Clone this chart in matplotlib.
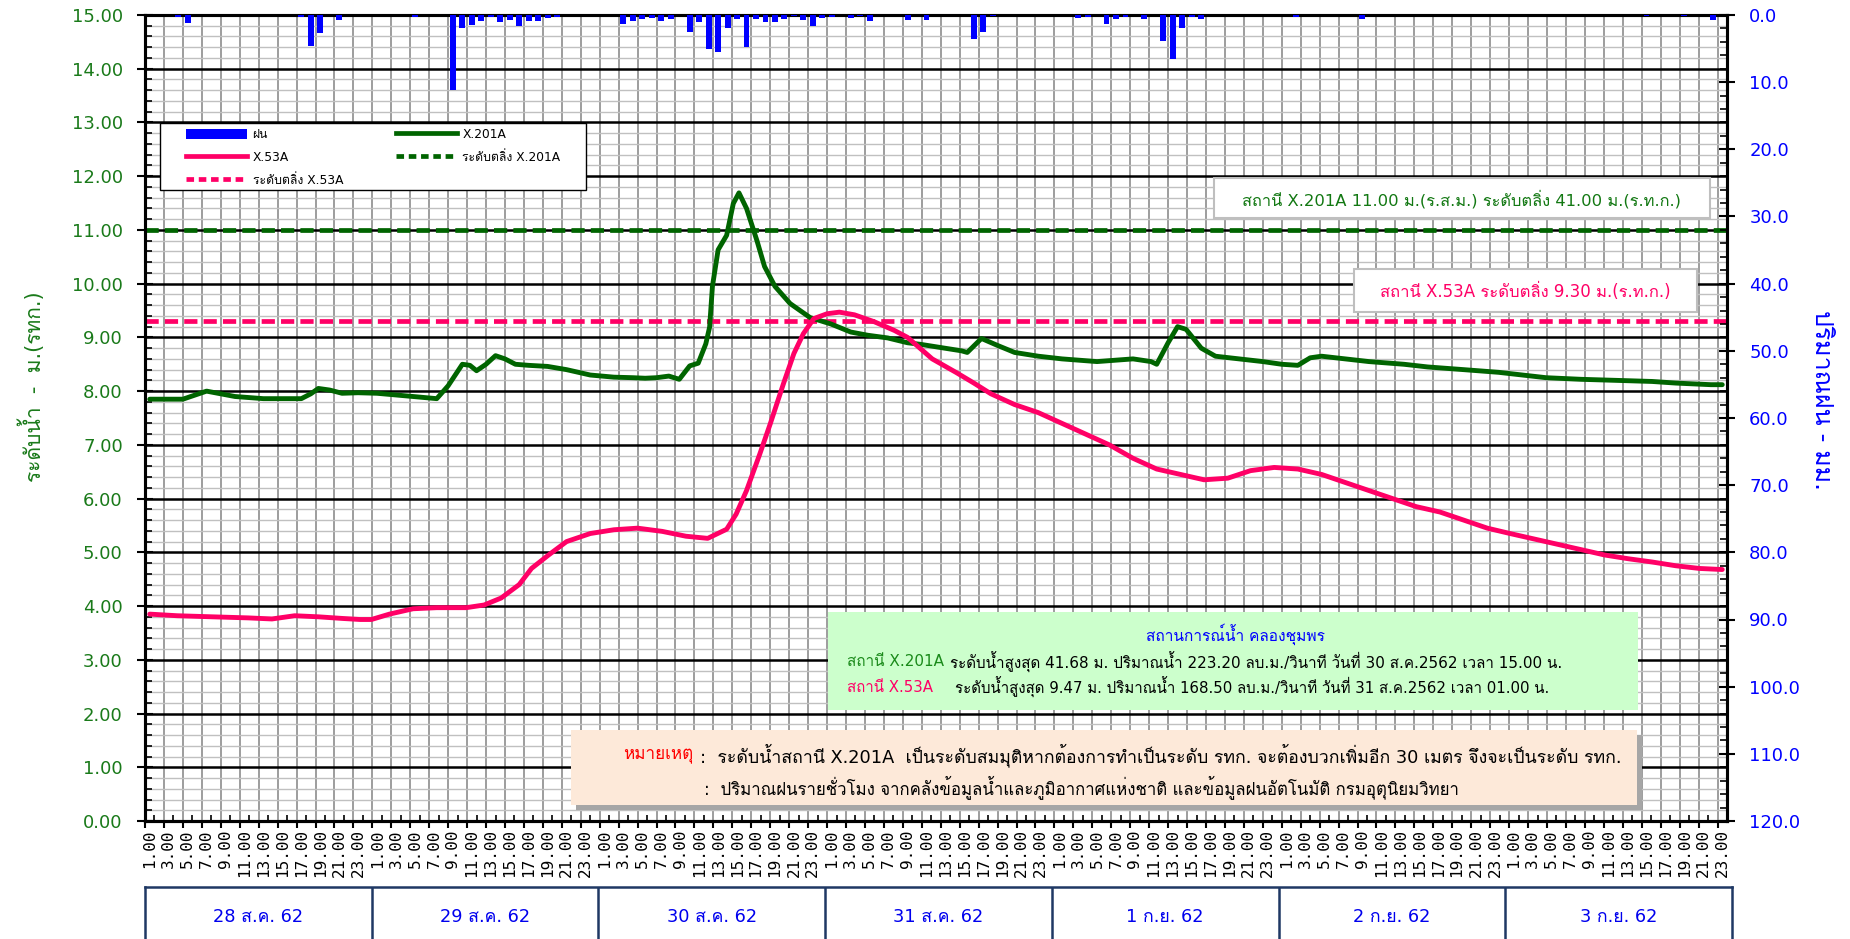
import matplotlib
matplotlib.use('Agg')
import matplotlib.pyplot as plt
import matplotlib.font_manager as font_manager
from matplotlib.ft2font import FT2Font
from matplotlib.patches import Patch, Rectangle
from matplotlib.lines import Line2D
from matplotlib.ticker import MultipleLocator
import numpy as np

W, H = 1850, 939

# ---- data ----
day_labels = ['28 ส.ค. 62', '29 ส.ค. 62', '30 ส.ค. 62', '31 ส.ค. 62',
              '1 ก.ย. 62', '2 ก.ย. 62', '3 ก.ย. 62']
hour_labels = ['1.00', '3.00', '5.00', '7.00', '9.00', '11.00',
               '13.00', '15.00', '17.00', '19.00', '21.00', '23.00']
n_hours = 167   # 28 Aug 1.00 .. 3 Sep 23.00

# hourly rain (hour index, mm)
rain_hour = [3, 4, 16, 17, 18, 20, 28, 32, 33, 34, 35, 36, 37, 38, 39, 40, 41, 42, 43,
             50, 51, 52, 53, 54, 55, 57, 58, 59, 60, 61, 62, 63, 64, 65, 66, 67, 68,
             69, 70, 71, 72, 74, 75, 76, 80, 82, 87, 88, 89, 98, 99, 101, 102, 103,
             105, 107, 108, 109, 110, 111, 121, 128, 158, 162, 165]
rain_mm = [0.3, 1.2, 0.3, 4.6, 2.7, 0.7, 0.3, 11.2, 2.0, 1.5, 0.85, 0.25, 1.0, 0.75, 1.6,
           0.9, 0.9, 0.4, 0.25, 1.4, 0.95, 0.6, 0.5, 0.9, 0.6, 2.6, 1.0, 5.0, 5.5, 2.0,
           0.55, 4.7, 0.55, 1.0, 1.1, 0.55, 0.2, 0.75, 1.6, 0.4, 0.3, 0.5, 0.15, 0.85,
           0.7, 0.7, 3.5, 2.5, 0.2, 0.4, 0.35, 1.3, 0.65, 0.35, 0.6, 3.8, 6.5, 1.9,
           0.35, 0.55, 0.3, 0.6, 0.2, 0.2, 0.75]

# station X.201A water level (hour index, m)
x201_hour = [0, 3.5, 6, 9, 12, 16, 17, 17.8, 19, 20.3, 22, 24, 27.8, 30.3, 31.5, 33,
             33.8, 34.5, 35.5, 36.5, 37.5, 38.6, 40, 42, 44, 46.5, 49, 51, 52.3, 53.5,
             54.8, 55.9, 57, 57.9, 58.7, 59.1, 59.4, 60, 60.9, 61.6, 62.2, 63, 64.1,
             64.9, 66, 67.6, 69.7, 71.9, 74, 75.8, 77.9, 80, 81.4, 83.9, 85.7, 86.3,
             87.8, 89.5, 91.3, 93.8, 96.3, 100, 103.8, 105.7, 106.3, 107.5, 108.5,
             109.4, 111, 112.5, 115, 117.5, 119.5, 121.2, 122.5, 123.7, 126.2, 128.7,
             132.4, 134.9, 138.7, 142.4, 144.9, 147.4, 151.1, 154.9, 158.6, 161.1,
             164.8, 166]
x201_level = [7.85, 7.85, 8.0, 7.9, 7.86, 7.86, 7.95, 8.05, 8.02, 7.96, 7.97, 7.96, 7.9,
              7.86, 8.1, 8.5, 8.48, 8.38, 8.5, 8.66, 8.6, 8.5, 8.48, 8.46, 8.4, 8.3,
              8.26, 8.25, 8.24, 8.25, 8.28, 8.22, 8.47, 8.52, 8.88, 9.19, 9.95, 10.63,
              10.9, 11.49, 11.69, 11.4, 10.8, 10.32, 9.95, 9.63, 9.37, 9.25, 9.1, 9.04,
              8.99, 8.9, 8.87, 8.8, 8.75, 8.72, 8.98, 8.85, 8.72, 8.65, 8.6, 8.55, 8.6,
              8.55, 8.5, 8.9, 9.2, 9.15, 8.8, 8.65, 8.6, 8.55, 8.5, 8.48, 8.62, 8.65,
              8.6, 8.55, 8.5, 8.45, 8.4, 8.35, 8.3, 8.25, 8.22, 8.2, 8.18, 8.15, 8.12,
              8.12]

# station X.53A water level (hour index, m)
x53_hour = [0, 2.9, 6.6, 10.4, 12.9, 15.3, 17.8, 20.3, 22.2, 23.4, 25.3, 27.8, 30.3,
            33.4, 35.3, 37.1, 39, 40.3, 42.1, 44, 46.5, 49, 51.5, 54.1, 56.6, 58.9,
            60.9, 61.9, 63, 64.4, 65.5, 66.9, 68, 69, 70.1, 71.5, 72.8, 74.4, 76.5,
            78.6, 80, 82.6, 85.1, 87, 88.8, 91.3, 93.8, 96.3, 98.8, 101.3, 103.8,
            106.3, 108.8, 111.3, 113.8, 116.2, 118.7, 121.2, 123.7, 126.2, 128.7,
            131.2, 133.7, 136.2, 138.7, 141.2, 143.6, 146.1, 148.6, 151.1, 153.6,
            156.1, 158.6, 161.1, 163.6, 166]
x53_level = [3.85, 3.82, 3.8, 3.78, 3.76, 3.82, 3.8, 3.77, 3.75, 3.75, 3.85, 3.95, 3.97,
             3.97, 4.02, 4.15, 4.4, 4.7, 4.95, 5.2, 5.35, 5.42, 5.45, 5.39, 5.3, 5.26,
             5.43, 5.71, 6.15, 6.83, 7.39, 8.14, 8.7, 9.07, 9.35, 9.44, 9.47, 9.42,
             9.29, 9.13, 9.0, 8.6, 8.35, 8.15, 7.95, 7.75, 7.6, 7.4, 7.2, 7.0, 6.75,
             6.55, 6.45, 6.35, 6.38, 6.52, 6.58, 6.55, 6.45, 6.3, 6.15, 6.0, 5.85, 5.75,
             5.6, 5.45, 5.35, 5.25, 5.15, 5.05, 4.95, 4.88, 4.82, 4.75, 4.7, 4.68]

bank_x201 = 11.00
bank_x53 = 9.30

GREEN = '#006400'
PINK = '#ff0066'
BLUE = '#0000ff'
LGREEN = '#1a7a1a'
NAVY = '#1f3864'


def thai_font():
    found = []
    for f in font_manager.fontManager.ttflist:
        try:
            if 0x0E2A in FT2Font(f.fname).get_charmap():
                found.append(f)
        except Exception:
            continue
    found.sort(key=lambda f: (f.weight not in (400, 'normal', 'regular'), f.style != 'normal'))
    return found[0].name if found else 'DejaVu Sans'


def px(x, y):
    return x / W, 1 - y / H


def main():
    thai = thai_font()
    plt.rcParams['font.family'] = ['DejaVu Sans', thai]

    fig = plt.figure(figsize=(W / 100, H / 100), dpi=100)
    L, R, T, B = 145, 1727, 15, 821
    ax = fig.add_axes([L / W, 1 - B / H, (R - L) / W, (B - T) / H])

    # water levels
    ax.plot(x201_hour, x201_level, color=GREEN, lw=3.5, zorder=4,
            solid_joinstyle='round', solid_capstyle='round')
    ax.plot(x53_hour, x53_level, color=PINK, lw=3.5, zorder=4,
            solid_joinstyle='round', solid_capstyle='round')
    ax.axhline(bank_x201, color=GREEN, lw=3.4, dashes=(2.8, 1.3), zorder=3)
    ax.axhline(bank_x53, color=PINK, lw=3.4, dashes=(2.8, 1.3), zorder=3)

    ax.set_xlim(-0.5, n_hours - 0.5)
    ax.set_ylim(0, 15)
    bounds = np.arange(-0.5, n_hours, 2)
    ax.set_xticks(bounds, [''] * len(bounds))
    centers = np.arange(0, n_hours, 2)
    ax.set_xticks(centers, (hour_labels * 7)[:len(centers)], minor=True)
    ax.tick_params(axis='x', which='major', direction='out', length=5, width=1.5)
    ax.tick_params(axis='x', which='minor', length=0, labelsize=11.5, rotation=90, pad=6)
    for lbl in ax.get_xticklabels(minor=True):
        lbl.set_family('DejaVu Sans Mono')

    ax.set_yticks(np.arange(0, 16, 1))
    ax.yaxis.set_minor_locator(MultipleLocator(0.2))
    ax.yaxis.set_major_formatter('{x:.2f}')
    ax.tick_params(axis='y', which='major', direction='inout', length=12, width=1.5,
                   labelsize=13, labelcolor=LGREEN, pad=10)
    ax.tick_params(axis='y', which='minor', direction='in', length=5, width=1.2)

    ax.set_axisbelow(True)
    ax.xaxis.grid(True, which='major', color='#8c8c8c', lw=1.2)
    ax.yaxis.grid(True, which='minor', color='#c0c0c0', lw=1.0)
    ax.yaxis.grid(True, which='major', color='black', lw=1.8)
    for s in ax.spines.values():
        s.set_linewidth(2.2)

    sec = ax.secondary_xaxis('bottom')
    sec.set_xticks(np.arange(0.5, n_hours, 2))
    sec.tick_params(direction='in', length=4, width=1.2, labelbottom=False)
    sec.spines['bottom'].set_linewidth(2.2)

    # rain on the right axis, hanging from the top
    ax2 = ax.twinx()
    ax2.bar(rain_hour, rain_mm, width=0.62, color=BLUE, zorder=3)
    ax2.set_ylim(120, 0)
    ax2.set_yticks(np.arange(0, 121, 10))
    ax2.yaxis.set_minor_locator(MultipleLocator(2))
    ax2.yaxis.set_major_formatter('{x:.1f}')
    ax2.tick_params(axis='y', which='major', direction='inout', length=12, width=1.5,
                    labelsize=13, labelcolor=BLUE, pad=10)
    ax2.tick_params(axis='y', which='minor', direction='in', length=5, width=1.2)
    for s in ax2.spines.values():
        s.set_linewidth(2.2)

    # legend: white frame + frameless figure legend on top of it
    fig.add_artist(Rectangle(px(160, 190), 426 / W, 67 / H, transform=fig.transFigure,
                             facecolor='white', edgecolor='black', lw=1.0, zorder=4))
    handles = [Patch(facecolor=BLUE, label='ฝน'),
               Line2D([], [], color=PINK, lw=3.4, label='X.53A'),
               Line2D([], [], color=PINK, lw=3.4, dashes=(1.6, 1.0), label='ระดับตลิ่ง X.53A'),
               Line2D([], [], color=GREEN, lw=3.4, label='X.201A'),
               Line2D([], [], color=GREEN, lw=3.4, dashes=(1.6, 1.0), label='ระดับตลิ่ง X.201A')]
    fig.legend(handles=handles, ncol=2, loc='upper left', bbox_to_anchor=px(186, 128),
               frameon=False, fontsize=8.8, handlelength=5.0, handletextpad=0.45,
               labelspacing=0.82, columnspacing=4.3, borderpad=0, borderaxespad=0,
               handleheight=0.9)

    renderer = fig.canvas.get_renderer()

    def fit(t, width=None, height=None):
        bb = t.get_window_extent(renderer)
        if width:
            t.set_fontsize(t.get_fontsize() * width / bb.width)
        else:
            t.set_fontsize(t.get_fontsize() * height / bb.height)
        return t

    def box(x0, y0, x1, y1, face, edge='none', lw=1.0, shadow=False):
        if shadow:
            fig.add_artist(Rectangle(px(x0 + 5, y1 + 5), (x1 - x0) / W, (y1 - y0) / H,
                                     transform=fig.transFigure, facecolor='#a6a6a6',
                                     edgecolor='none', zorder=5))
        fig.add_artist(Rectangle(px(x0, y1), (x1 - x0) / W, (y1 - y0) / H,
                                 transform=fig.transFigure, facecolor=face,
                                 edgecolor=edge, lw=lw, zorder=6))

    def txt(x, y, s, width, color='black', ha='left', **kw):
        t = fig.text(*px(x, y), s, color=color, ha=ha, va='center', fontsize=10, zorder=7, **kw)
        return fit(t, width=width)

    # bank level boxes
    box(1214, 178, 1710, 218, 'white', edge='#bfbfbf', lw=1.5)
    txt(1462, 199, 'สถานี X.201A 11.00 ม.(ร.ส.ม.) ระดับตลิ่ง 41.00 ม.(ร.ท.ก.)', 439,
        color='#127812', ha='center')
    box(1354, 269, 1697, 312, 'white', edge='#bfbfbf', lw=1.5)
    txt(1525, 292, 'สถานี X.53A ระดับตลิ่ง 9.30 ม.(ร.ท.ก.)', 290, color=PINK, ha='center')

    # summary box
    box(828, 612, 1638, 710, '#ccffcc')
    txt(1235, 634, 'สถานการณ์น้ำ คลองชุมพร', 179, color=BLUE, ha='center')
    txt(847, 662, 'สถานี X.201A', 97, color='#1a8a1a')
    txt(950, 662, 'ระดับน้ำสูงสุด 41.68 ม. ปริมาณน้ำ 223.20 ลบ.ม./วินาที วันที่ 30 ส.ค.2562 เวลา 15.00 น.', 610)
    txt(847, 687, 'สถานี X.53A', 86, color=PINK)
    txt(955, 687, 'ระดับน้ำสูงสุด 9.47 ม. ปริมาณน้ำ 168.50 ลบ.ม./วินาที วันที่ 31 ส.ค.2562 เวลา 01.00 น.', 594)

    # note box
    box(571, 730, 1637, 805, '#fde9d9', shadow=True)
    txt(623, 755, 'หมายเหตุ', 70, color='#ff0000')
    txt(700, 755, ':  ระดับน้ำสถานี X.201A  เป็นระดับสมมุติหากต้องการทำเป็นระดับ รทก. จะต้องบวกเพิ่มอีก 30 เมตร จึงจะเป็นระดับ รทก.', 920)
    txt(704, 787, ':  ปริมาณฝนรายชั่วโมง จากคลังข้อมูลน้ำและภูมิอากาศแห่งชาติ และข้อมูลฝนอัตโนมัติ กรมอุตุนิยมวิทยา', 754)

    # axis titles
    t = fig.text(*px(32, 387), 'ระดับน้ำ  -  ม.(รทก.)', rotation=90, color=LGREEN,
                 ha='center', va='center', fontsize=12)
    fit(t, height=191)
    t = fig.text(*px(1822, 400), 'ปริมาณฝน - มม.', rotation=-90, color=BLUE,
                 ha='center', va='center', fontsize=12)
    fit(t, height=180)

    # date strip under the axis
    axd = fig.add_axes([145 / W, 0, (1732 - 145) / W, (H - 887) / H])
    axd.set_xlim(0, len(day_labels))
    axd.set_ylim(0, 1)
    axd.set_xticks([])
    axd.set_yticks([])
    axd.spines['bottom'].set_visible(False)
    for s in axd.spines.values():
        s.set_color(NAVY)
        s.set_linewidth(1.8)
    axd.vlines(np.arange(1, len(day_labels)), 0, 1, color=NAVY, lw=1.8)
    size = None
    for i, d in enumerate(day_labels):
        t = axd.text(i + 0.5, 1 - 30 / (H - 887), d, ha='center', va='center',
                     color='#0000ee', fontsize=13)
        if size is None:
            fit(t, width=90)
            size = t.get_fontsize()
        t.set_fontsize(size)

    fig.savefig('out.png', dpi=100)


if __name__ == '__main__':
    main()
